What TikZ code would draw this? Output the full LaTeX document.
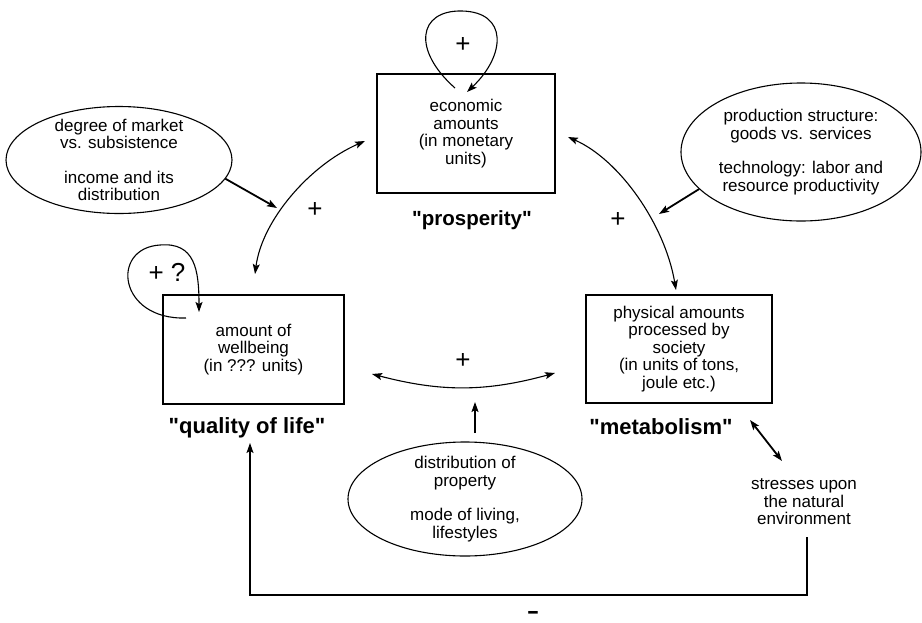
\documentclass[tikz,border=0pt]{standalone}
\usepackage{fontspec}
\setmainfont{Liberation Sans}[Ligatures=TeXOff]
\usetikzlibrary{shapes.geometric,arrows.meta}
\begin{document}
\begin{tikzpicture}[x=1pt,y=-1pt,
  txt/.style={font=\fontsize{17}{17.5}\selectfont, align=center, inner sep=0pt},
  box/.style={draw, line width=1.2pt, txt},
  ell/.style={draw, ellipse, line width=1.1pt, txt, inner sep=-12pt},
  title/.style={font=\fontsize{22}{24}\selectfont\bfseries, inner sep=0pt},
  sign/.style={font=\fontsize{26}{28}\selectfont, inner sep=0pt},
  tip/.style={-{Stealth[length=10pt,width=7pt,inset=2pt]}},
  dtip/.style={{Stealth[length=10pt,width=7pt,inset=2pt]}-{Stealth[length=10pt,width=7pt,inset=2pt]}},
  con/.style={line width=1.1pt},
  thick con/.style={line width=1.8pt},
]
\useasboundingbox (0,0) rectangle (922,622);

% boxes
\node[box, minimum width=178pt, minimum height=119pt] (eco) at (466,133.5) {economic\\amounts\\(in monetary\\units)};
\node[box, minimum width=181pt, minimum height=109pt] (qolbox) at (253.5,349.5) {amount of\\wellbeing\\(in ??? units)};
\node[box, minimum width=186pt, minimum height=108pt] (phys) at (679,349) {physical amounts\\processed by\\society\\(in units of tons,\\joule etc.)};

% titles
\node[title, font=\fontsize{20.5}{24}\selectfont\bfseries] (prosp) at (472,220) {"prosperity"};
\node[title] (qol) at (247,428) {"quality of life"};
\node[title] (meta) at (661,427) {"metabolism"};

% ellipses
\node[ell, minimum width=226pt, minimum height=107pt] (mkt) at (119,160) {degree of market\\vs. subsistence\\[17pt]income and its\\distribution};
\node[ell, minimum width=240pt, minimum height=138pt] (prod) at (801,152) {production structure:\\goods vs. services\\[17pt]technology: labor and\\resource productivity};
\node[ell, minimum width=234pt, minimum height=114pt] (life) at (465,499) {distribution of\\property\\[17pt]mode of living,\\lifestyles};

% stresses
\node[txt] (stress) at (804,502) {stresses upon\\the natural\\environment};

% signs
\node[sign] (s1) at (463,45) {+};
\node[sign] (s2) at (167,272) {+ ?};
\node[sign] (s3) at (315,210) {+};
\node[sign] (s4) at (618,220) {+};
\node[sign] (s5) at (463,361) {+};
\node[title, xscale=1.7] (minus) at (533,615) {-};

% coordinates for free ends
\coordinate (ecoL) at (455,88);
\coordinate (ecoR) at (467,92);
\coordinate (qolL) at (186,318);
\coordinate (qolR) at (199,312);
\coordinate (lcTop) at (365,141);
\coordinate (lcBot) at (255,274);
\coordinate (rcTop) at (568,137);
\coordinate (rcBot) at (676,290);
\coordinate (hL) at (372,374);
\coordinate (hR) at (555,373);
\coordinate (mktTip) at (277,208);
\coordinate (prodTip) at (659,214);
\coordinate (lifeTail) at (475,433);
\coordinate (lifeTip) at (475,402);
\coordinate (stA) at (750,420);
\coordinate (stB) at (782,461);
\coordinate (fbS) at (807,537);
\coordinate (fbB) at (528,595);
\coordinate (fbE) at (250,443);

% self loops
\draw[con, tip] (ecoL) .. controls (412,50) and (418,10) .. (462,11) .. controls (508,12) and (506,55) .. (ecoR);
\draw[con, tip] (qolL) .. controls (118,320) and (110,248) .. (160,245) .. controls (195,242) and (199,270) .. (qolR);

% curved double arrows
\draw[con, dtip] (lcTop) .. controls (310,165) and (262,220) .. (lcBot);
\draw[con, dtip] (rcTop) .. controls (620,160) and (665,225) .. (rcBot);
\draw[con, dtip] (hL) to[bend right=15] (hR);

% influence arrows
\draw[thick con, tip] (mkt.-10) -- (mktTip);
\draw[thick con, tip] (prod.200) -- (prodTip);
\draw[thick con, tip] (lifeTail) -- (lifeTip);
\draw[thick con, dtip] (stA) -- (stB);

% feedback
\draw[con, tip] (fbS) |- (fbB) -| (fbE);
\end{tikzpicture}
\end{document}
